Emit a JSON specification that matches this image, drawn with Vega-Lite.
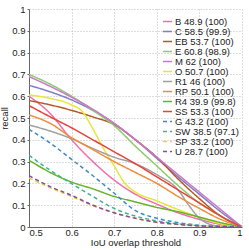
{
  "$schema": "https://vega.github.io/schema/vega-lite/v6.json",
  "width": 213,
  "height": 218,
  "autosize": {"type": "none"},
  "padding": {"left": 29, "top": 9, "right": 7, "bottom": 23},
  "background": "white",
  "config": {
    "font": "Liberation Sans",
    "view": {"stroke": null},
    "axis": {
      "labelFontSize": 9.5, "titleFontSize": 9.5, "titleFontWeight": "normal",
      "labelColor": "#222", "titleColor": "#222",
      "domainColor": "#666", "tickColor": "#666", "tickSize": 2,
      "gridColor": "#bbb", "gridDash": [1, 2], "gridWidth": 1
    }
  },
  "data": {"values": [
    {"m":"B 48.9 (100)","t":0.5,"r":0.6},{"m":"B 48.9 (100)","t":0.55,"r":0.52},{"m":"B 48.9 (100)","t":0.6,"r":0.4},{"m":"B 48.9 (100)","t":0.65,"r":0.3},{"m":"B 48.9 (100)","t":0.7,"r":0.215},{"m":"B 48.9 (100)","t":0.75,"r":0.15},{"m":"B 48.9 (100)","t":0.8,"r":0.105},{"m":"B 48.9 (100)","t":0.85,"r":0.065},{"m":"B 48.9 (100)","t":0.9,"r":0.035},{"m":"B 48.9 (100)","t":0.95,"r":0.012},{"m":"B 48.9 (100)","t":1,"r":0},
    {"m":"C 58.5 (99.9)","t":0.5,"r":0.65},{"m":"C 58.5 (99.9)","t":0.55,"r":0.62},{"m":"C 58.5 (99.9)","t":0.6,"r":0.583},{"m":"C 58.5 (99.9)","t":0.65,"r":0.535},{"m":"C 58.5 (99.9)","t":0.7,"r":0.475},{"m":"C 58.5 (99.9)","t":0.75,"r":0.4},{"m":"C 58.5 (99.9)","t":0.8,"r":0.315},{"m":"C 58.5 (99.9)","t":0.85,"r":0.23},{"m":"C 58.5 (99.9)","t":0.9,"r":0.15},{"m":"C 58.5 (99.9)","t":0.95,"r":0.07},{"m":"C 58.5 (99.9)","t":1,"r":0},
    {"m":"EB 53.7 (100)","t":0.5,"r":0.58},{"m":"EB 53.7 (100)","t":0.55,"r":0.56},{"m":"EB 53.7 (100)","t":0.6,"r":0.535},{"m":"EB 53.7 (100)","t":0.65,"r":0.505},{"m":"EB 53.7 (100)","t":0.7,"r":0.47},{"m":"EB 53.7 (100)","t":0.75,"r":0.4},{"m":"EB 53.7 (100)","t":0.8,"r":0.32},{"m":"EB 53.7 (100)","t":0.85,"r":0.22},{"m":"EB 53.7 (100)","t":0.9,"r":0.13},{"m":"EB 53.7 (100)","t":0.95,"r":0.05},{"m":"EB 53.7 (100)","t":1,"r":0},
    {"m":"E 60.8 (98.9)","t":0.5,"r":0.7},{"m":"E 60.8 (98.9)","t":0.55,"r":0.655},{"m":"E 60.8 (98.9)","t":0.6,"r":0.6},{"m":"E 60.8 (98.9)","t":0.65,"r":0.535},{"m":"E 60.8 (98.9)","t":0.7,"r":0.465},{"m":"E 60.8 (98.9)","t":0.75,"r":0.37},{"m":"E 60.8 (98.9)","t":0.8,"r":0.28},{"m":"E 60.8 (98.9)","t":0.85,"r":0.19},{"m":"E 60.8 (98.9)","t":0.9,"r":0.11},{"m":"E 60.8 (98.9)","t":0.95,"r":0.05},{"m":"E 60.8 (98.9)","t":1,"r":0},
    {"m":"M 62 (100)","t":0.5,"r":0.69},{"m":"M 62 (100)","t":0.55,"r":0.645},{"m":"M 62 (100)","t":0.6,"r":0.595},{"m":"M 62 (100)","t":0.65,"r":0.54},{"m":"M 62 (100)","t":0.7,"r":0.475},{"m":"M 62 (100)","t":0.75,"r":0.4},{"m":"M 62 (100)","t":0.8,"r":0.32},{"m":"M 62 (100)","t":0.85,"r":0.24},{"m":"M 62 (100)","t":0.9,"r":0.16},{"m":"M 62 (100)","t":0.95,"r":0.08},{"m":"M 62 (100)","t":1,"r":0},
    {"m":"O 50.7 (100)","t":0.5,"r":0.606},{"m":"O 50.7 (100)","t":0.55,"r":0.59},{"m":"O 50.7 (100)","t":0.6,"r":0.56},{"m":"O 50.7 (100)","t":0.625,"r":0.53},{"m":"O 50.7 (100)","t":0.65,"r":0.45},{"m":"O 50.7 (100)","t":0.675,"r":0.36},{"m":"O 50.7 (100)","t":0.7,"r":0.28},{"m":"O 50.7 (100)","t":0.725,"r":0.2},{"m":"O 50.7 (100)","t":0.75,"r":0.16},{"m":"O 50.7 (100)","t":0.8,"r":0.12},{"m":"O 50.7 (100)","t":0.85,"r":0.08},{"m":"O 50.7 (100)","t":0.9,"r":0.045},{"m":"O 50.7 (100)","t":0.95,"r":0.015},{"m":"O 50.7 (100)","t":1,"r":0},
    {"m":"R1 46 (100)","t":0.5,"r":0.468},{"m":"R1 46 (100)","t":0.55,"r":0.44},{"m":"R1 46 (100)","t":0.6,"r":0.405},{"m":"R1 46 (100)","t":0.65,"r":0.36},{"m":"R1 46 (100)","t":0.7,"r":0.32},{"m":"R1 46 (100)","t":0.75,"r":0.29},{"m":"R1 46 (100)","t":0.8,"r":0.24},{"m":"R1 46 (100)","t":0.85,"r":0.17},{"m":"R1 46 (100)","t":0.875,"r":0.1},{"m":"R1 46 (100)","t":0.9,"r":0.04},{"m":"R1 46 (100)","t":0.925,"r":0.012},{"m":"R1 46 (100)","t":0.95,"r":0.003},{"m":"R1 46 (100)","t":1,"r":0},
    {"m":"RP 50.1 (100)","t":0.5,"r":0.514},{"m":"RP 50.1 (100)","t":0.55,"r":0.475},{"m":"RP 50.1 (100)","t":0.6,"r":0.41},{"m":"RP 50.1 (100)","t":0.65,"r":0.355},{"m":"RP 50.1 (100)","t":0.7,"r":0.3},{"m":"RP 50.1 (100)","t":0.75,"r":0.25},{"m":"RP 50.1 (100)","t":0.8,"r":0.2},{"m":"RP 50.1 (100)","t":0.85,"r":0.14},{"m":"RP 50.1 (100)","t":0.9,"r":0.085},{"m":"RP 50.1 (100)","t":0.95,"r":0.035},{"m":"RP 50.1 (100)","t":1,"r":0},
    {"m":"R4 39.9 (99.8)","t":0.5,"r":0.306},{"m":"R4 39.9 (99.8)","t":0.55,"r":0.25},{"m":"R4 39.9 (99.8)","t":0.6,"r":0.206},{"m":"R4 39.9 (99.8)","t":0.65,"r":0.175},{"m":"R4 39.9 (99.8)","t":0.7,"r":0.14},{"m":"R4 39.9 (99.8)","t":0.75,"r":0.115},{"m":"R4 39.9 (99.8)","t":0.8,"r":0.09},{"m":"R4 39.9 (99.8)","t":0.85,"r":0.07},{"m":"R4 39.9 (99.8)","t":0.9,"r":0.045},{"m":"R4 39.9 (99.8)","t":0.95,"r":0.02},{"m":"R4 39.9 (99.8)","t":1,"r":0},
    {"m":"SS 53.3 (100)","t":0.5,"r":0.557},{"m":"SS 53.3 (100)","t":0.55,"r":0.505},{"m":"SS 53.3 (100)","t":0.6,"r":0.455},{"m":"SS 53.3 (100)","t":0.65,"r":0.4},{"m":"SS 53.3 (100)","t":0.7,"r":0.345},{"m":"SS 53.3 (100)","t":0.75,"r":0.29},{"m":"SS 53.3 (100)","t":0.8,"r":0.23},{"m":"SS 53.3 (100)","t":0.85,"r":0.17},{"m":"SS 53.3 (100)","t":0.9,"r":0.11},{"m":"SS 53.3 (100)","t":0.95,"r":0.05},{"m":"SS 53.3 (100)","t":1,"r":0},
    {"m":"G 43.2 (100)","t":0.5,"r":0.448},{"m":"G 43.2 (100)","t":0.55,"r":0.385},{"m":"G 43.2 (100)","t":0.6,"r":0.31},{"m":"G 43.2 (100)","t":0.65,"r":0.235},{"m":"G 43.2 (100)","t":0.7,"r":0.155},{"m":"G 43.2 (100)","t":0.75,"r":0.075},{"m":"G 43.2 (100)","t":0.8,"r":0.04},{"m":"G 43.2 (100)","t":0.85,"r":0.02},{"m":"G 43.2 (100)","t":0.9,"r":0.008},{"m":"G 43.2 (100)","t":0.95,"r":0.003},{"m":"G 43.2 (100)","t":1,"r":0},
    {"m":"SW 38.5 (97.1)","t":0.5,"r":0.329},{"m":"SW 38.5 (97.1)","t":0.55,"r":0.26},{"m":"SW 38.5 (97.1)","t":0.6,"r":0.199},{"m":"SW 38.5 (97.1)","t":0.65,"r":0.14},{"m":"SW 38.5 (97.1)","t":0.7,"r":0.085},{"m":"SW 38.5 (97.1)","t":0.75,"r":0.05},{"m":"SW 38.5 (97.1)","t":0.8,"r":0.028},{"m":"SW 38.5 (97.1)","t":0.85,"r":0.014},{"m":"SW 38.5 (97.1)","t":0.9,"r":0.006},{"m":"SW 38.5 (97.1)","t":0.95,"r":0.002},{"m":"SW 38.5 (97.1)","t":1,"r":0},
    {"m":"SP 33.2 (100)","t":0.5,"r":0.225},{"m":"SP 33.2 (100)","t":0.55,"r":0.18},{"m":"SP 33.2 (100)","t":0.6,"r":0.14},{"m":"SP 33.2 (100)","t":0.65,"r":0.098},{"m":"SP 33.2 (100)","t":0.7,"r":0.065},{"m":"SP 33.2 (100)","t":0.75,"r":0.04},{"m":"SP 33.2 (100)","t":0.8,"r":0.022},{"m":"SP 33.2 (100)","t":0.85,"r":0.011},{"m":"SP 33.2 (100)","t":0.9,"r":0.005},{"m":"SP 33.2 (100)","t":0.95,"r":0.002},{"m":"SP 33.2 (100)","t":1,"r":0},
    {"m":"U 28.7 (100)","t":0.5,"r":0.235},{"m":"U 28.7 (100)","t":0.55,"r":0.185},{"m":"U 28.7 (100)","t":0.6,"r":0.145},{"m":"U 28.7 (100)","t":0.65,"r":0.1},{"m":"U 28.7 (100)","t":0.7,"r":0.065},{"m":"U 28.7 (100)","t":0.75,"r":0.04},{"m":"U 28.7 (100)","t":0.8,"r":0.022},{"m":"U 28.7 (100)","t":0.85,"r":0.012},{"m":"U 28.7 (100)","t":0.9,"r":0.005},{"m":"U 28.7 (100)","t":0.95,"r":0.002},{"m":"U 28.7 (100)","t":1,"r":0}
  ]},
  "mark": {"type": "line", "strokeWidth": 1.5, "interpolate": "monotone", "clip": true},
  "encoding": {
    "x": {"field": "t", "type": "quantitative",
      "scale": {"domain": [0.5, 1], "nice": false},
      "axis": {"values": [0.5, 0.6, 0.7, 0.8, 0.9, 1], "format": "~g", "title": "IoU overlap threshold", "tickSize": 0, "labelPadding": 0, "titlePadding": 1}},
    "y": {"field": "r", "type": "quantitative",
      "scale": {"domain": [0, 1], "nice": false},
      "axis": {"values": [0, 0.1, 0.2, 0.3, 0.4, 0.5, 0.6, 0.7, 0.8, 0.9, 1], "format": "~g", "title": "recall", "labelPadding": 2, "titlePadding": 2}},
    "color": {"field": "m", "type": "nominal",
      "scale": {
        "domain": ["B 48.9 (100)","C 58.5 (99.9)","EB 53.7 (100)","E 60.8 (98.9)","M 62 (100)","O 50.7 (100)","R1 46 (100)","RP 50.1 (100)","R4 39.9 (99.8)","SS 53.3 (100)","G 43.2 (100)","SW 38.5 (97.1)","SP 33.2 (100)","U 28.7 (100)"],
        "range": ["#ef6fac","#7e7ec4","#b5591f","#8ccb6e","#cc77cc","#e6e63c","#a0a0a0","#f08c3c","#66b22a","#e8423c","#3c88c8","#3cb49a","#e8d040","#8a4a9e"]},
      "legend": {"title": null, "orient": "none", "legendX": 133, "legendY": 7,
        "symbolType": "stroke", "symbolSize": 81, "symbolStrokeWidth": 1.5,
        "labelFontSize": 9.5, "labelColor": "#222", "labelOffset": 2, "rowPadding": 0, "labelLimit": 100}},
    "strokeDash": {"field": "m", "type": "nominal",
      "scale": {
        "domain": ["B 48.9 (100)","C 58.5 (99.9)","EB 53.7 (100)","E 60.8 (98.9)","M 62 (100)","O 50.7 (100)","R1 46 (100)","RP 50.1 (100)","R4 39.9 (99.8)","SS 53.3 (100)","G 43.2 (100)","SW 38.5 (97.1)","SP 33.2 (100)","U 28.7 (100)"],
        "range": [[1,0],[1,0],[1,0],[1,0],[1,0],[1,0],[1,0],[1,0],[1,0],[1,0],[4,3],[4,3],[4,3],[4,3]]},
      "legend": {"title": null, "orient": "none", "legendX": 133, "legendY": 7,
        "symbolType": "stroke", "symbolSize": 81, "symbolStrokeWidth": 1.5,
        "labelFontSize": 9.5, "labelColor": "#222", "labelOffset": 2, "rowPadding": 0, "labelLimit": 100}}
  }
}
